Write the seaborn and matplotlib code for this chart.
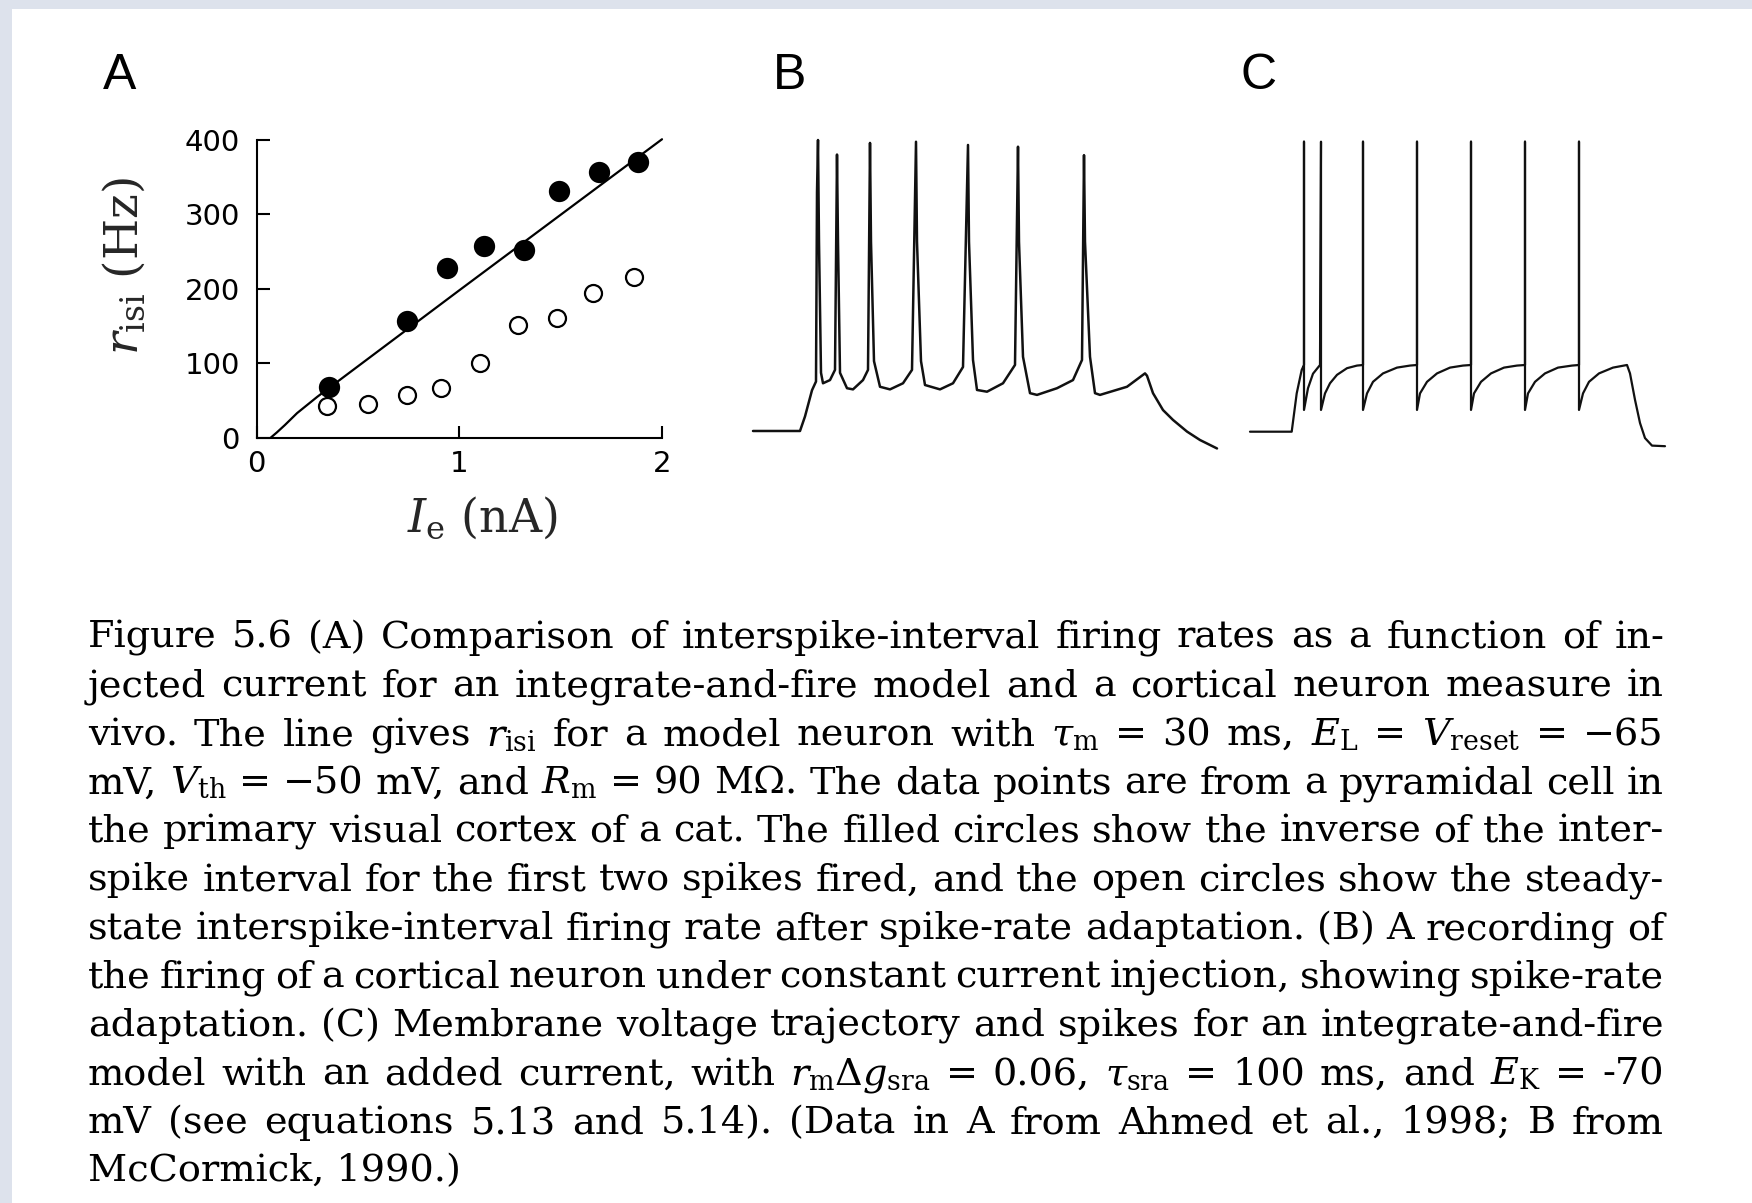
import matplotlib
matplotlib.use("Agg")
import matplotlib.pyplot as plt
import matplotlib.transforms as mtransforms
from matplotlib.patches import Rectangle
import seaborn as sns

# ---------------- data ----------------
# Panel A: interspike-interval firing rate vs injected current
first_isi_current = [0.36, 0.74, 0.94, 1.12, 1.32, 1.49, 1.69, 1.88]
first_isi_rate = [68, 157, 228, 258, 252, 332, 357, 371]
steady_current = [0.35, 0.55, 0.74, 0.91, 1.10, 1.29, 1.48, 1.66, 1.86]
steady_rate = [42, 45, 57, 67, 101, 152, 161, 194, 216]
model_current = [0.07, 0.10, 0.14, 0.20, 0.30, 1.00, 2.00]
model_rate = [0, 7, 17, 33, 55, 198, 401]

# Panel B: recorded membrane potential (ms, mV)
recording_t = [0, 20, 47, 52, 59, 63,
               64, 65, 66, 68, 70, 77, 82,
               84, 85, 87, 94, 100, 110, 115,
               117, 118, 121, 127, 137, 150, 159,
               163, 164, 168, 172, 187, 200, 210,
               215, 216, 220, 224, 234, 250, 262,
               265, 266, 270, 277, 284, 304, 320, 329,
               331, 332, 337, 342, 347, 374, 392,
               394, 400, 410, 420, 434, 447, 464]
recording_v = [-70, -70, -70, -65, -56, -53,
               12, 30, -5, -50, -53.6, -52.5, -49,
               25, -5, -50, -55.3, -55.7, -52.5, -49,
               29, -5, -46, -54.8, -55.7, -53.6, -49,
               29.4, -5, -46, -54.2, -55.7, -53.6, -48,
               28.3, -5, -45.6, -55.9, -56.5, -53.6, -47.3,
               27.7, -5, -44.5, -57, -57.6, -55.3, -52.5, -45.6,
               24.8, -5, -44.5, -57, -57.6, -54.8, -50.2,
               -51, -57, -62.8, -66.2, -70.2, -73.1, -76]

# Panel C: integrate-and-fire model with spike-rate adaptation (ms, mV)
model_t = [0, 41.7, 46.7, 51.7, 54, 54, 54,
           58, 63, 70, 71, 71,
           75, 80, 87, 97, 107, 113, 113, 113,
           117, 123, 133, 147, 160, 167, 167, 167,
           170, 177, 187, 200, 213, 221, 221, 221,
           224, 231, 241, 254, 267, 275, 275, 275,
           278, 285, 295, 308, 322, 329, 329, 329,
           333, 339, 349, 363, 377,
           380, 385, 390, 395, 402, 415]
model_v = [-70, -70, -56.8, -48.7, -47, 30, -62.5,
           -55, -50, -47, 30, -62.5,
           -56.8, -53.3, -50.4, -48.1, -47.2, -47, 30, -62.5,
           -56.8, -52.8, -49.9, -47.9, -47.2, -47, 30, -62.5,
           -56.8, -52.8, -49.9, -47.9, -47.2, -47, 30, -62.5,
           -56.8, -52.8, -49.9, -47.9, -47.2, -47, 30, -62.5,
           -56.8, -52.8, -49.9, -47.9, -47.2, -47, 30, -62.5,
           -56.8, -52.8, -49.9, -47.9, -47,
           -49.9, -59, -67, -72.2, -74.8, -75]

y_ticks = [0, 100, 200, 300, 400]
x_ticks = [0, 1, 2]
panel_letters = ["A", "B", "C"]

caption_lines = [
    "Figure 5.6 (A) Comparison of interspike-interval firing rates as a function of in-",
    "jected current for an integrate-and-fire model and a cortical neuron measure in",
    r"vivo.  The line gives $r_\mathrm{isi}$ for a model neuron with $\tau_\mathrm{m}$ = 30 ms, "
    r"$E_\mathrm{L}$ = $V_\mathrm{reset}$ = −65",
    r"mV, $V_\mathrm{th}$ = −50 mV, and $R_\mathrm{m}$ = 90 MΩ. The data points are from a pyramidal cell in",
    "the primary visual cortex of a cat.  The filled circles show the inverse of the inter-",
    "spike interval for the first two spikes fired, and the open circles show the steady-",
    "state interspike-interval firing rate after spike-rate adaptation.  (B) A recording of",
    "the firing of a cortical neuron under constant current injection, showing spike-rate",
    "adaptation.  (C) Membrane voltage trajectory and spikes for an integrate-and-fire",
    r"model with an added current, with $r_\mathrm{m}\Delta{g}_\mathrm{sra}$ = 0.06, "
    r"$\tau_\mathrm{sra}$ = 100 ms, and $E_\mathrm{K}$ = -70",
    "mV (see equations 5.13 and 5.14).  (Data in A from Ahmed et al., 1998; B from",
    "McCormick, 1990.)",
]

# ---------------- style ----------------
sns.set_theme(style="ticks")
SERIF = "DejaVu Serif"
plt.rcParams.update({
    "font.family": ["DejaVu Sans"],
    "mathtext.fontset": "custom",
    "mathtext.rm": SERIF,
    "mathtext.it": SERIF + ":italic",
    "mathtext.bf": SERIF + ":bold",
    "mathtext.fallback": "stix",
    "axes.linewidth": 1.5,
    "axes.edgecolor": "black",
    "text.color": "black",
    "xtick.color": "black",
    "ytick.color": "black",
})

W, H = 1752, 1203
fig = plt.figure(figsize=(W / 100, H / 100), dpi=100)
fig.patch.set_facecolor("white")
px = mtransforms.IdentityTransform()

# page edge strips
edge = "#dde2ec"
fig.patches.append(Rectangle((0, 0), 12 / W, 1, transform=fig.transFigure,
                             facecolor=edge, edgecolor="none", zorder=0))
fig.patches.append(Rectangle((0, 1 - 9 / H), 1, 9 / H, transform=fig.transFigure,
                             facecolor=edge, edgecolor="none", zorder=0))


def box(x0, x1, ytop, ybot):
    return [x0 / W, 1 - ybot / H, (x1 - x0) / W, (ybot - ytop) / H]


# ---------------- panel A ----------------
axA = fig.add_axes(box(256.5, 662, 140, 437.7))
axA.set_facecolor("none")
sns.lineplot(x=model_current, y=model_rate, ax=axA, color="black", lw=1.6,
             sort=False, estimator=None)
for ln in axA.lines:
    ln.set_clip_on(False)
sns.scatterplot(x=first_isi_current, y=first_isi_rate, ax=axA, color="black",
                s=235, linewidth=0, zorder=3, clip_on=False)
sns.scatterplot(x=steady_current, y=steady_rate, ax=axA, color="white",
                edgecolor="black", s=150, linewidth=1.6, zorder=3, clip_on=False)
axA.set_xlim(0, 2)
axA.set_ylim(0, 400)
axA.set_xticks(x_ticks)
axA.set_yticks(y_ticks)
sns.despine(ax=axA)
axA.tick_params(direction="in", length=9, width=1.5, labelsize=21)
axA.tick_params(axis="x", pad=9)
axA.tick_params(axis="y", pad=12)
axA.set_ylabel(r"$r_\mathrm{isi}$ (Hz)", fontsize=34, fontfamily=SERIF)
axA.yaxis.label.set_verticalalignment("center")
axA.yaxis.set_label_coords((124 - 256.5) / 405.5, (437.7 - 266) / 297.7)
axA.set_xlabel(r"$I_\mathrm{e}$ (nA)", fontsize=33, fontfamily=SERIF)
axA.xaxis.label.set_verticalalignment("center")
axA.xaxis.set_label_coords((482 - 256.5) / 405.5, (437.7 - 518) / 297.7)

# ---------------- panel B ----------------
axB = fig.add_axes(box(745, 1225, 130, 460))
sns.lineplot(x=recording_t, y=recording_v, ax=axB, color="#111111", lw=1.8,
             sort=False, estimator=None)
axB.set_xlim(-8, 472)
axB.set_ylim(-79.97, 33.44)
axB.axis("off")

# ---------------- panel C ----------------
axC = fig.add_axes(box(1240, 1675, 130, 460))
sns.lineplot(x=model_t, y=model_v, ax=axC, color="#111111", lw=1.6,
             sort=False, estimator=None)
axC.set_xlim(-10, 425)
axC.set_ylim(-79.76, 34.03)
axC.axis("off")

# ---------------- panel letters ----------------
for letter, xc in zip(panel_letters, [120, 790, 1259]):
    fig.text(xc, H - 89, letter, transform=px, ha="center", va="baseline",
             fontsize=36, fontfamily="Liberation Sans")

# ---------------- justified caption ----------------
renderer = fig.canvas.get_renderer()
x_left, x_right = 88, 1664
cap_size = 27.5
for i, line in enumerate(caption_lines):
    y = H - (648 + 48.5 * i)
    if i == len(caption_lines) - 1:
        fig.text(x_left, y, line, transform=px, ha="left", va="baseline",
                 fontsize=cap_size, fontfamily=SERIF)
        continue
    words = [w for w in line.split(" ") if w]
    size = cap_size
    while True:
        texts = [fig.text(0, y, w, transform=px, ha="left", va="baseline",
                          fontsize=size, fontfamily=SERIF) for w in words]
        widths = [t.get_window_extent(renderer).width for t in texts]
        gap = (x_right - x_left - sum(widths)) / (len(words) - 1)
        if gap >= 0.24 * size or size < 18:
            break
        for t in texts:
            t.remove()
        size -= 0.5
    x = x_left
    for t, w in zip(texts, widths):
        t.set_x(x)
        x += w + gap

fig.savefig("out.png", dpi=100, facecolor="white")
